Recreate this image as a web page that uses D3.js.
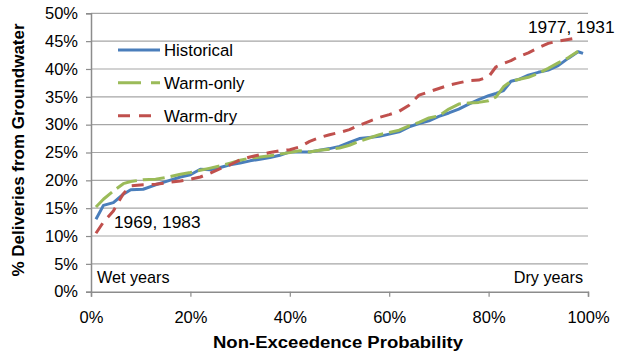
<!DOCTYPE html>
<html><head><meta charset="utf-8">
<script src="https://cdn.jsdelivr.net/npm/d3@7"></script>
<style>
body{margin:0;background:#fff;}
svg{display:block;font-family:"Liberation Sans",Arial,sans-serif;}
</style></head>
<body><svg id="c" width="619" height="354"></svg>
<script>
const probability = [1,2.5,4.5,6.5,8,10.5,13,15.5,18,20,22,24,26,28,30,32,34,36,38,40,42,44,46,48,50,52,54,56,58,60,62,64,66,68,70,72,74,76,78,80,81.5,83,84.5,86,88,90,92,94,96,98,99];
const historical = [13.0,15.5,16.0,17.5,18.3,18.4,19.2,19.9,20.6,21.0,22.0,21.9,22.3,22.8,23.1,23.5,23.8,24.1,24.5,25.1,25.1,25.1,25.4,25.7,26.1,26.8,27.5,27.7,27.9,28.3,28.7,29.6,30.2,30.7,31.5,32.1,32.8,33.7,34.5,35.2,35.6,36.1,37.8,38.1,38.9,39.4,39.8,40.6,41.9,43.1,42.8];
const warmOnly = [15.2,16.6,18.1,19.4,19.8,20.1,20.2,20.6,21.1,21.4,21.8,22.2,22.6,23.1,23.6,24.0,24.2,24.4,24.7,25.0,25.3,25.1,25.4,25.6,25.8,26.3,27.0,27.6,28.2,28.6,29.0,29.8,30.4,31.2,31.6,32.8,33.7,33.9,34.0,34.3,35.0,36.8,37.8,38.1,38.5,39.2,40.1,41.1,42.0,43.2,null];
const warmDry = [10.5,12.5,14.5,17.6,19.0,19.2,19.3,19.6,19.9,20.2,20.6,21.3,22.1,22.8,23.7,24.2,24.6,25.0,25.3,25.5,26.0,27.0,27.7,28.2,28.6,29.1,29.9,30.6,31.3,31.8,32.4,33.5,35.3,35.9,36.5,37.1,37.5,37.9,38.0,38.6,40.4,41.0,41.5,42.2,42.9,43.8,44.6,45.0,45.3,45.6,null];
const seriesNames = ["Historical","Warm-only","Warm-dry"];
const yTicks = [0,5,10,15,20,25,30,35,40,45,50];
const xTicks = [0,20,40,60,80,100];

const svg = d3.select("#c");
const x = d3.scaleLinear().domain([0,100]).range([91,588]);
const y = d3.scaleLinear().domain([0,50]).range([291.7,13.3]);
const FF = "Liberation Sans, Arial, sans-serif";

// gridlines
svg.append("g").selectAll("line").data(yTicks.filter(d=>d>0)).join("line")
  .attr("x1",91).attr("x2",588).attr("y1",d=>y(d)).attr("y2",d=>y(d))
  .attr("stroke","#a6a6a6").attr("stroke-width",1.2);

// y axis
const yAxis = d3.axisLeft(y).tickValues(yTicks).tickFormat(d=>d+"%").tickSize(5).tickPadding(8);
const gy = svg.append("g").attr("transform","translate(91,0)").call(yAxis);
gy.select(".domain").attr("stroke","#8c8c8c").attr("stroke-width",1.5);
gy.selectAll(".tick line").attr("stroke","#8c8c8c").attr("stroke-width",1.2);
gy.selectAll("text").attr("font-size",16.5).attr("fill","#000").attr("font-family",FF);

// x axis
const xAxis = d3.axisBottom(x).tickValues(xTicks).tickFormat(d=>d+"%").tickSize(5).tickPadding(15);
const gx = svg.append("g").attr("transform","translate(0,291.7)").call(xAxis);
gx.select(".domain").attr("stroke","#8c8c8c").attr("stroke-width",1.5);
gx.selectAll(".tick line").attr("stroke","#8c8c8c").attr("stroke-width",1.2);
gx.selectAll("text").attr("font-size",16.5).attr("fill","#000").attr("font-family",FF);

// lines
const colors = ["#4a7ebb","#9bbb59","#c0504d"];
const dashes = [null,"22,6","12,8"];
const data = [historical,warmOnly,warmDry];
const line = d3.line().defined(d=>d[1]!=null).x(d=>x(d[0])).y(d=>y(d[1]));
data.forEach((vals,i)=>{
  const pts = probability.map((p,j)=>[p,vals[j]]);
  svg.append("path").datum(pts).attr("d",line)
    .attr("fill","none").attr("stroke",colors[i]).attr("stroke-width",3)
    .attr("stroke-dasharray",dashes[i]).attr("stroke-linejoin","round");
});

// legend
const legY = [50,82.7,115.7];
const legDash = [null,"23,10","12,9"];
seriesNames.forEach((n,i)=>{
  svg.append("line").attr("x1",118).attr("x2",160).attr("y1",legY[i]).attr("y2",legY[i])
    .attr("stroke",colors[i]).attr("stroke-width",3).attr("stroke-dasharray",legDash[i]);
  svg.append("text").attr("x",164).attr("y",legY[i]+6).attr("font-size",16.8).text(n);
});

// annotations
svg.append("text").attr("x",114).attr("y",228).attr("font-size",17.3).text("1969, 1983");
svg.append("text").attr("x",528).attr("y",32.5).attr("font-size",17.3).text("1977, 1931");
svg.append("text").attr("x",97).attr("y",283).attr("font-size",16.2).text("Wet years");
svg.append("text").attr("x",583).attr("y",283).attr("font-size",16.2).attr("text-anchor","end").text("Dry years");

// titles
svg.append("text").attr("x",338).attr("y",348).attr("font-size",16).attr("font-weight","bold")
  .attr("text-anchor","middle").attr("textLength",250).attr("lengthAdjust","spacingAndGlyphs")
  .text("Non-Exceedence Probability");
svg.append("text").attr("transform","translate(24,150) rotate(-90)").attr("font-size",17).attr("font-weight","bold")
  .attr("text-anchor","middle").text("% Deliveries from Groundwater");
</script></body></html>
